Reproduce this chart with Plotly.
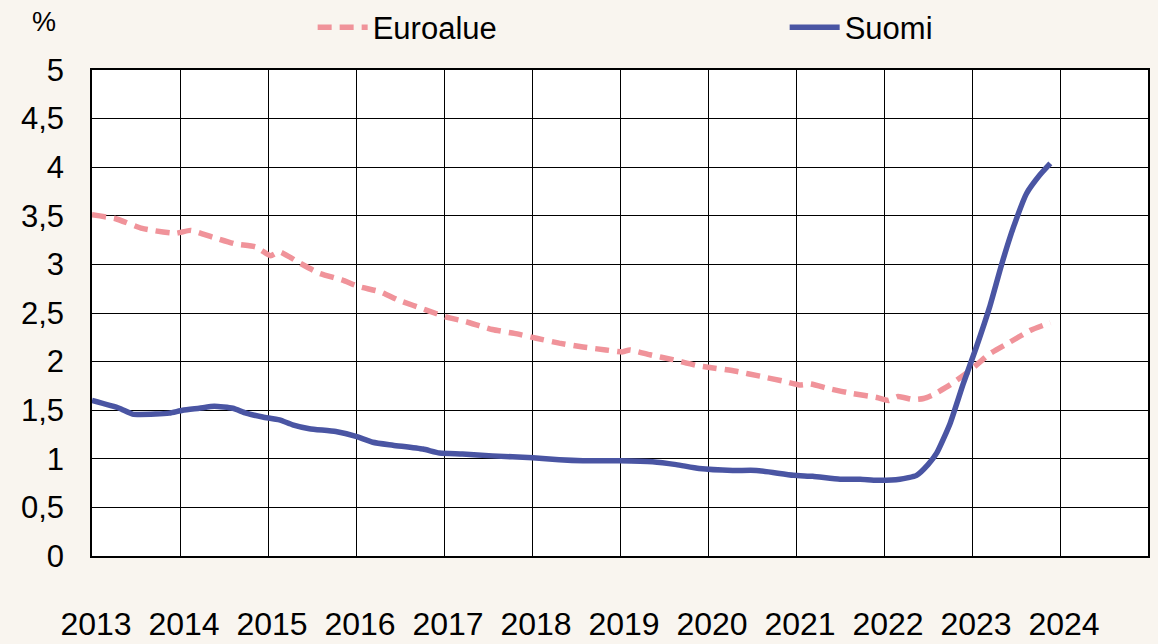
import plotly.graph_objects as go

# Data (decimal years, %)
euro_x = [2013.0, 2013.27, 2013.57, 2013.95, 2014.12, 2014.37, 2014.63, 2014.86, 2015.03, 2015.13,
          2015.35, 2015.58, 2015.84, 2016.04, 2016.27, 2016.49, 2016.80, 2017.02, 2017.25, 2017.55,
          2017.80, 2018.05, 2018.31, 2018.58, 2018.84, 2019.03, 2019.11, 2019.34, 2019.60, 2019.87,
          2020.02, 2020.32, 2020.59, 2020.85, 2021.04, 2021.16, 2021.38, 2021.65, 2021.92, 2022.05,
          2022.16, 2022.33, 2022.45, 2022.56, 2022.75, 2022.98, 2023.20, 2023.43, 2023.66, 2023.89]
euro_y = [3.51, 3.47, 3.37, 3.32, 3.35, 3.28, 3.21, 3.18, 3.09, 3.13,
          3.02, 2.91, 2.84, 2.77, 2.72, 2.63, 2.53, 2.46, 2.41, 2.33,
          2.29, 2.24, 2.19, 2.15, 2.12, 2.10, 2.12, 2.07, 2.02, 1.96,
          1.94, 1.90, 1.85, 1.80, 1.76, 1.77, 1.72, 1.67, 1.63, 1.60,
          1.64, 1.61, 1.62, 1.66, 1.76, 1.91, 2.08, 2.20, 2.32, 2.40]

suomi_x = [2013.0, 2013.31, 2013.46, 2013.72, 2013.88, 2014.03, 2014.22, 2014.39, 2014.60, 2014.75,
           2014.94, 2015.13, 2015.28, 2015.47, 2015.77, 2016.00, 2016.19, 2016.42, 2016.76, 2016.95,
           2017.21, 2017.55, 2018.01, 2018.31, 2018.58, 2019.00, 2019.37, 2019.64, 2019.90, 2020.28,
           2020.55, 2020.97, 2021.19, 2021.50, 2021.73, 2021.92, 2022.18, 2022.37, 2022.50, 2022.60,
           2022.75, 2022.90, 2023.05, 2023.20, 2023.34, 2023.47, 2023.62, 2023.77, 2023.89]
suomi_y = [1.60, 1.52, 1.46, 1.46, 1.47, 1.50, 1.52, 1.54, 1.52, 1.47,
           1.43, 1.40, 1.35, 1.31, 1.28, 1.23, 1.17, 1.14, 1.10, 1.06,
           1.05, 1.03, 1.01, 0.99, 0.98, 0.98, 0.97, 0.94, 0.90, 0.88,
           0.88, 0.83, 0.82, 0.79, 0.79, 0.78, 0.79, 0.83, 0.94, 1.06,
           1.36, 1.77, 2.15, 2.56, 3.01, 3.38, 3.73, 3.92, 4.04]

year_ticks = list(range(2013, 2025))
year_labels = [str(y) for y in year_ticks]
y_ticks = [0, 0.5, 1, 1.5, 2, 2.5, 3, 3.5, 4, 4.5, 5]

BG = "#f9f5ef"
FONT = "Liberation Sans, Arial, sans-serif"

fig = go.Figure()
fig.add_trace(go.Scatter(x=euro_x, y=euro_y, mode="lines", name="Euroalue",
                         line=dict(color="#f0939a", width=5.5, dash="14px,8px", shape="spline", smoothing=0.5)))
fig.add_trace(go.Scatter(x=suomi_x, y=suomi_y, mode="lines", name="Suomi",
                         line=dict(color="#4a55a3", width=5.5, shape="spline", smoothing=0.5)))

fig.update_layout(
    width=1158, height=644,
    paper_bgcolor=BG, plot_bgcolor="white",
    margin=dict(l=92, r=10, t=70, b=88, autoexpand=False),
    separators=", ",
    font=dict(family=FONT, color="black", size=28),
    showlegend=True,
    legend=dict(orientation="h", xref="container", yref="container",
                x=0.27, y=0.957, xanchor="left", yanchor="middle",
                entrywidth=407, font=dict(size=31), bgcolor="rgba(0,0,0,0)",
                itemwidth=50),
    annotations=[dict(text="%", xref="paper", yref="paper", x=-0.045, y=1.099,
                      showarrow=False, font=dict(size=27), xanchor="center", yanchor="middle")],
)
fig.update_xaxes(range=[2013, 2025], tickvals=year_ticks, ticktext=year_labels,
                 showgrid=True, gridcolor="black", gridwidth=1,
                 showline=True, linecolor="black", linewidth=1.5, mirror=True,
                 ticks="", tickfont=dict(size=32), ticklabelstandoff=39, ticklabelshift=4,
                 zeroline=False, automargin=False)
fig.update_yaxes(range=[0, 5], tickvals=y_ticks,
                 showgrid=True, gridcolor="black", gridwidth=1,
                 showline=True, linecolor="black", linewidth=1.5, mirror=True,
                 ticks="", tickfont=dict(size=31), ticklabelstandoff=20, zeroline=False,
                 automargin=False)

fig.write_html("out.html", config={"displayModeBar": False},
               post_script="document.body.style.margin='0';document.body.style.background='%s';" % BG)
